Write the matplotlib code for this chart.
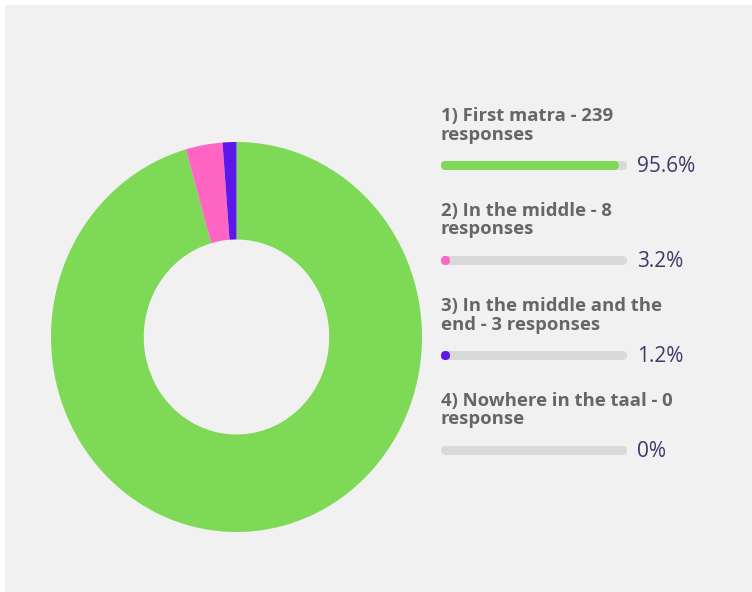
import matplotlib.pyplot as plt
from matplotlib.patches import Rectangle, FancyBboxPatch

# 응답 데이터
labels = ['1) First matra - 239\nresponses',
          '2) In the middle - 8\nresponses',
          '3) In the middle and the\nend - 3 responses',
          '4) Nowhere in the taal - 0\nresponse']
counts = [239, 8, 3, 0]
colors = ['#7ED957', '#FF66C4', '#5E17EB', '#8C52FF']

total = sum(counts)
percents = [c / total * 100 for c in counts]

fig = plt.figure(figsize=(7.52, 5.92), dpi=100)
fig.patch.set_facecolor('white')

# 배경 + 텍스트용 픽셀 좌표 축
bg = fig.add_axes([0, 0, 1, 1], zorder=0)
bg.set_xlim(0, 752)
bg.set_ylim(592, 0)
bg.axis('off')
bg.add_patch(Rectangle((5, 5), 752, 592, color='#F1F1F1', lw=0))

# 도넛 차트
ax = fig.add_axes([51 / 752, 60 / 592, 371 / 752, 390 / 592], zorder=1)
ax.pie(counts, colors=colors, startangle=90, counterclock=False,
       wedgeprops=dict(width=0.5, linewidth=0))
ax.set_aspect('auto')
ax.set_xlim(-1, 1)
ax.set_ylim(-1, 1)
ax.axis('off')

# 오른쪽 범례 (라벨 + 진행 막대 + 퍼센트)
x0 = 441
track_w = 186
bar_h = 9
for i, (lab, pct, col) in enumerate(zip(labels, percents, colors)):
    top = 121 + 95 * i
    for j, line in enumerate(lab.split('\n')):
        bg.text(x0, top + 18.5 * j, line, fontsize=13.3, fontweight='bold',
                family='Open Sans', color='#666666', va='baseline', ha='left')

    by = 165.5 + 95 * i
    bg.add_patch(FancyBboxPatch((x0, by - bar_h / 2), track_w, bar_h,
                                boxstyle=f'round,pad=0,rounding_size={bar_h / 2}',
                                fc='#D9D9D9', ec='none'))
    if pct > 0:
        w = max(pct / 100 * track_w, bar_h)
        bg.add_patch(FancyBboxPatch((x0, by - bar_h / 2), w, bar_h,
                                    boxstyle=f'round,pad=0,rounding_size={bar_h / 2}',
                                    fc=col, ec='none'))
    txt = f'{pct:.1f}%' if pct > 0 else '0%'
    bg.text(637, by + 1, txt, fontsize=15, family='Open Sans',
            color='#3B3B68', va='center', ha='left')

plt.savefig('out.png', dpi=100)
